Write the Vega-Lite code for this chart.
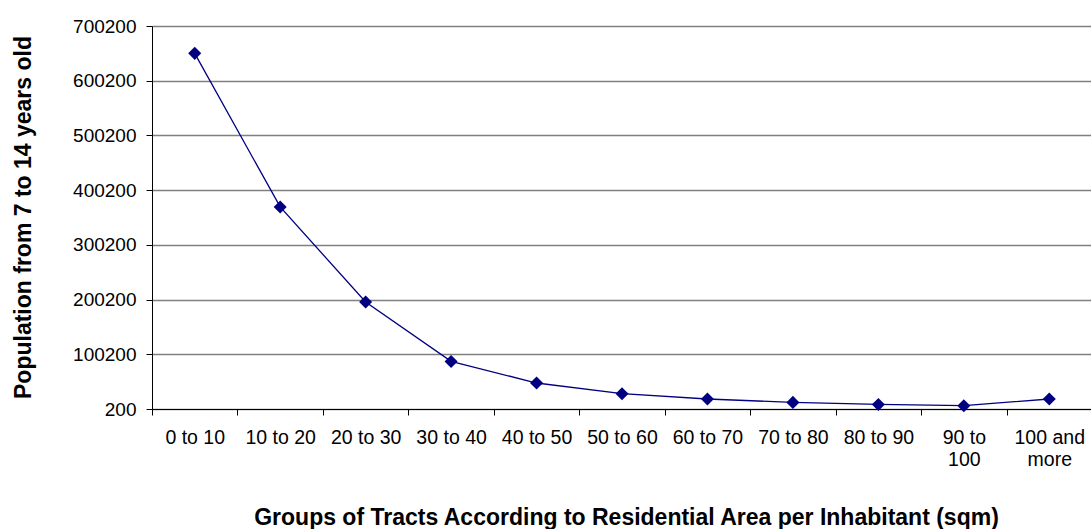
{
  "$schema": "https://vega.github.io/schema/vega-lite/v6.json",
  "autosize": "none",
  "padding": {"left": 152, "top": 26, "right": 0, "bottom": 120},
  "width": 940,
  "height": 383,
  "background": "white",
  "config": {
    "view": {"stroke": null},
    "font": "Liberation Sans"
  },
  "data": {
    "values": [
      {"group": "0 to 10", "population": 650200},
      {"group": "10 to 20", "population": 369500},
      {"group": "20 to 30", "population": 195800},
      {"group": "30 to 40", "population": 87200},
      {"group": "40 to 50", "population": 47700},
      {"group": "50 to 60", "population": 28200},
      {"group": "60 to 70", "population": 18500},
      {"group": "70 to 80", "population": 12300},
      {"group": "80 to 90", "population": 8600},
      {"group": "90 to 100", "population": 6200},
      {"group": "100 and more", "population": 18500}
    ]
  },
  "encoding": {
    "x": {
      "field": "group",
      "type": "ordinal",
      "sort": null,
      "scale": {"type": "band", "paddingInner": 0, "paddingOuter": 0},
      "axis": {
        "title": "Groups of Tracts According to Residential Area per Inhabitant (sqm)",
        "titleFont": "Liberation Sans",
        "titleFontSize": 23,
        "titleFontWeight": "bold",
        "titleColor": "black",
        "titleBaseline": "alphabetic",
        "titleY": 115,
        "titleX": 474,
        "labelAngle": 0,
        "labelFont": "Liberation Sans",
        "labelFontSize": 19.5,
        "labelColor": "black",
        "labelPadding": 13,
        "labelLineHeight": 22,
        "labelExpr": "datum.value == '90 to 100' ? ['90 to', '100'] : datum.value == '100 and more' ? ['100 and', 'more'] : datum.label",
        "tickBand": "extent",
        "tickColor": "black",
        "tickSize": 6,
        "domainColor": "black",
        "grid": false
      }
    },
    "y": {
      "field": "population",
      "type": "quantitative",
      "scale": {"domain": [200, 700200], "nice": false, "zero": false},
      "axis": {
        "title": "Population from 7 to 14 years old",
        "titleFont": "Liberation Sans",
        "titleFontSize": 23,
        "titleFontWeight": "bold",
        "titleColor": "black",
        "titleAngle": 270,
        "titleBaseline": "alphabetic",
        "titleX": -122,
        "titleY": 191,
        "titleAlign": "center",
        "values": [200, 100200, 200200, 300200, 400200, 500200, 600200, 700200],
        "format": "d",
        "labelFont": "Liberation Sans",
        "labelFontSize": 19,
        "labelColor": "black",
        "labelPadding": 10,
        "tickSize": 6,
        "tickColor": "black",
        "domainColor": "black",
        "grid": true,
        "gridColor": "#808080",
        "gridWidth": 1.3
      }
    }
  },
  "layer": [
    {"mark": {"type": "line", "color": "#000080", "strokeWidth": 1.3}},
    {"mark": {"type": "point", "shape": "diamond", "filled": true, "color": "#000080", "opacity": 1, "size": 170}}
  ]
}
